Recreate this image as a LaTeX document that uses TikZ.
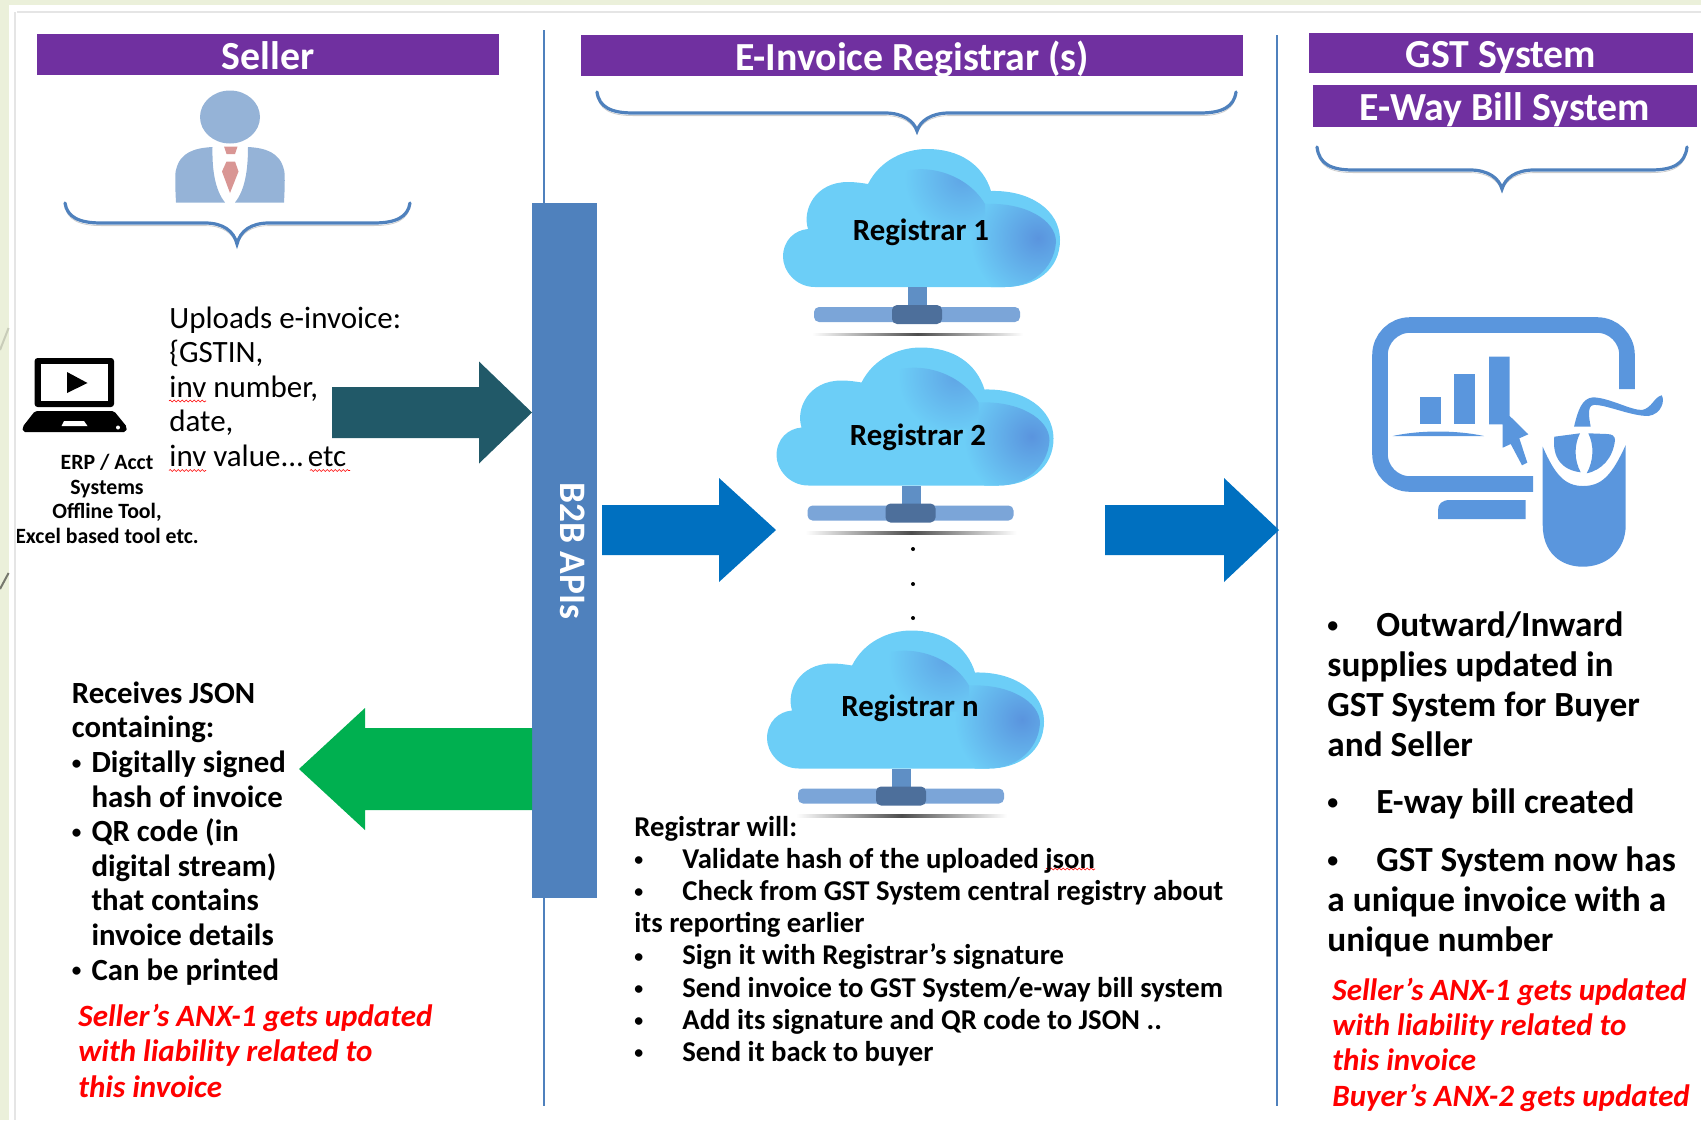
\documentclass[tikz,border=0pt]{standalone}
\usepackage{fontspec}
\setmainfont{Carlito}
\usetikzlibrary{positioning,decorations.pathmorphing}
\definecolor{purplebar}{HTML}{7030A0}
\definecolor{apiblue}{HTML}{4F81BD}
\definecolor{tealflow}{HTML}{215968}
\definecolor{flowblue}{HTML}{0070C0}
\definecolor{greenflow}{HTML}{00B050}
\definecolor{personblue}{HTML}{95B3D7}
\definecolor{tiepink}{HTML}{D99694}
\definecolor{cloudbase}{HTML}{6CCEF7}
\definecolor{cloudhi}{HTML}{5A94DE}
\definecolor{iconblue}{HTML}{5A96DD}
\definecolor{paper}{HTML}{EBF0DA}
\tikzset{
	titlebar/.style={fill=purplebar,text=white,font=\fontsize{19.9}{22}\selectfont\bfseries,align=center,inner sep=0pt,text height=17pt,text depth=2.5pt},
	sepline/.style={draw=apiblue,line width=0.6pt},
	bracket/.style={draw=apiblue,line width=1.6pt,line cap=round,preaction={draw=gray!40,transform canvas={yshift=-1.3pt}}},
	squiggle/.style={draw=red,line width=0.3pt,decorate,decoration={snake,amplitude=0.5pt,segment length=2pt}},
	blacktext/.style={anchor=base west,inner sep=0pt,align=left,font=\fontsize{15.4}{17.3}\selectfont\bfseries},
	redtext/.style={anchor=base west,inner sep=0pt,align=left,text=red,font=\fontsize{15.5}{17.6}\selectfont\bfseries\itshape},
	cloudtext/.style={inner sep=0pt,font=\fontsize{15.4}{18}\selectfont\bfseries}
}
\newcommand\bul[1]{\makebox[#1][l]{\raisebox{.1em}{\scalebox{.62}{\textbullet}}}}
\newcommand\fatarrow[7]{\fill[#1] (#2,#5-#6) -- (#3,#5-#6) -- (#3,#5-#7) -- (#4,#5) -- (#3,#5+#7) -- (#3,#5+#6) -- (#2,#5+#6) -- cycle;}
\newcommand\curlybrace[6]{\draw[bracket] (#1,#4) .. controls ({#1+2},{#5-6}) and ({#1+14},#5) .. ({#1+36},#5) -- ({#3-32},#5) .. controls ({#3-14},#5) and ({#3-3},{#5+8}) .. (#3,#6) .. controls ({#3+3},{#5+8}) and ({#3+14},#5) .. ({#3+32},#5) -- ({#2-36},#5) .. controls ({#2-14},#5) and ({#2-2},{#5-6}) .. (#2,#4);}
\newcommand\registrar[5]{
	\begin{scope}[shift={(#2,#3)}]
	\path[fill=cloudbase] (75,157) .. controls (55,157) and (43,140) .. (43,127) .. controls (43,110) and (55,100) .. (68,99) .. controls (62,80) and (75,52) .. (108,52) .. controls (115,52) and (122,53) .. (128,54) .. controls (140,30) and (165,19) .. (187,19) .. controls (220,19) and (243,35) .. (251,61) .. controls (290,60) and (320,80) .. (320,110) .. controls (320,140) and (295,157) .. (265,157) -- cycle;
	\begin{scope}
	\clip (245,74) .. controls (285,72) and (316,90) .. (316,112) .. controls (314,140) and (290,157) .. (265,157) -- (200,157) -- cycle;
	\shade[inner color=cloudhi,outer color=cloudbase] (298,108) circle (68);
	\end{scope}
	\begin{scope}
	\clip (150,48) .. controls (175,30) and (225,40) .. (245,74) -- (245,100) -- (160,100) -- cycle;
	\shade[inner color=cloudhi!70!cloudbase,outer color=cloudbase] (222,48) circle (58);
	\end{scope}
	\fill[color={rgb,255:red,95;green,143;blue,197}] (168,157) rectangle (187,178);
	\fill[color={rgb,255:red,123;green,165;blue,216},rounded corners=2.5pt] (74,177) rectangle (280,192);
	\fill[color={rgb,255:red,77;green,111;blue,155},rounded corners=2.5pt] (152,175) rectangle (202,194);
	\shade[left color=white,right color=white,middle color=black!70] (72,203) rectangle (283,205.5);
	\end{scope}
	\node[cloudtext] (#1) at (#5) {#4};
}
\begin{document}
\begin{tikzpicture}[x=0.5pt,y=-0.5pt]
	\useasboundingbox (0,0) rectangle (1701,1120);
	\node[titlebar,minimum width=231pt,minimum height=20.5pt] (seller) at (268,54.5) {Seller};
	\node[titlebar,minimum width=331pt,minimum height=20.5pt] (registrars) at (912,55.5) {E-Invoice Registrar (s)};
	\node[titlebar,minimum width=192pt,minimum height=20pt] (gst) at (1501,53) {GST System};
	\node[titlebar,minimum width=192pt,minimum height=21pt] (eway) at (1505,106) {E-Way Bill System};
	\draw[sepline] (544,30) -- (544,1106);
	\draw[sepline] (1277,35) -- (1277,1106);
	\curlybrace{65}{410}{237}{203}{223}{244}
	\curlybrace{597}{1236}{917}{92}{113}{131}
	\curlybrace{1317}{1687}{1502}{147}{170}{189}
	% person
	\fill[personblue] (230,117) ellipse (30 and 26.5);
	\fill[personblue] (176,202.5) .. controls (175,185) and (175,172) .. (176,170) .. controls (180,152) and (195,148) .. (212.5,147) .. controls (212,170) and (215,190) .. (225,202.5) -- cycle;
	\fill[personblue] (284,202.5) .. controls (285,185) and (285,172) .. (284,170) .. controls (280,152) and (265,148) .. (248,147) .. controls (248,170) and (245,190) .. (235,202.5) -- cycle;
	\fill[tiepink] (224,146.5) -- (237.5,146.5) -- (235,154) -- (226.5,154) -- cycle;
	\fill[tiepink] (226.5,161.5) -- (235,161.5) -- (238.5,171.5) -- (230,193) -- (222,171.5) -- cycle;
	% laptop
	\fill[black,rounded corners=1.5pt] (34.6,358) rectangle (114,407);
	\fill[white] (41,364) rectangle (108,401);
	\fill[black] (67,372) -- (87.5,383) -- (67,393) -- cycle;
	\fill[black,rounded corners=1pt] (35,411) -- (114,411) -- (127,427) -- (126,432) -- (23,432) -- (22.5,427) -- cycle;
	\fill[white] (64,421) -- (84,421) -- (87.5,426) -- (61.5,426) -- cycle;
	\fill[white] (118,427.5) circle (2);
	\node[anchor=base,inner sep=0pt,align=center,font=\fontsize{10.9}{12.2}\selectfont\bfseries] (erp) at (107,543) {ERP / Acct\\Systems\\Offline Tool,\\Excel based tool etc.};
	\node[anchor=base west,inner sep=0pt,align=left,font=\fontsize{15.5}{17.3}\selectfont] (upload) at (169,466.5) {Uploads e-invoice:\\\{GSTIN,\\inv number,\\date,\\inv value...\kern-1.5pt\ etc};
	\foreach \sqstart/\sqend/\sqy in {169/206/401,169/206/470.5,310/350/470.5,1046/1095/869}
		\draw[squiggle] (\sqstart,\sqy) -- (\sqend,\sqy);
	\fatarrow{tealflow}{332}{479}{532}{412.5}{25.5}{51}
	\fill[apiblue] (531.5,202.5) rectangle (597,898);
	\node[rotate=-90,inner sep=0pt,text=white,font=\fontsize{18.7}{22}\selectfont\bfseries] (apis) at (573,551) {B2B APIs};
	\fatarrow{flowblue}{602}{719}{776}{530}{25}{52}
	\fatarrow{flowblue}{1105}{1224}{1279}{530}{25}{52}
	\fatarrow{greenflow}{532}{365}{299}{769}{41}{61}
	\registrar{regone}{740}{130}{Registrar 1}{921,232}
	\registrar{regtwo}{733.5}{328.5}{Registrar 2}{918,437}
	\registrar{regn}{724}{611.5}{Registrar n}{910,708}
	\foreach \doty in {549,584,618}
		\fill[black] (913,\doty) circle (2);
	% screen and mouse
	\draw[iconblue,line width=7.8pt,rounded corners=15pt] (1627,389) -- (1627,325) -- (1380,325) -- (1380,484) -- (1533,484);
	\fill[iconblue] (1420,397.3) rectangle (1440.7,424.3);
	\fill[iconblue] (1454.3,374) rectangle (1475,424.3);
	\fill[iconblue] (1489,356.7) -- (1509.7,356.7) -- (1509.7,416) -- (1528.3,434.3) -- (1519.3,438.3) -- (1527.3,462.7) -- (1522,465.3) -- (1510.7,444) -- (1502.7,447.7) -- (1502.7,424.3) -- (1489,424.3) -- cycle;
	\fill[iconblue] (1392.7,436) .. controls (1420,430) and (1456,430) .. (1484,436) -- cycle;
	\fill[iconblue] (1525.7,500) -- (1450,500) .. controls (1442,500) and (1438,504) .. (1438,510) -- (1438,519) -- (1525.7,519) -- cycle;
	\fill[iconblue] (1542.7,446.7) .. controls (1555,475) and (1565,486) .. (1583,486) .. controls (1602,486) and (1612,475) .. (1625.7,445) -- (1625.7,525) .. controls (1625.7,552) and (1605,566.7) .. (1583,566.7) .. controls (1560,566.7) and (1542.7,552) .. (1542.7,525) -- cycle;
	\fill[iconblue] (1554.3,436.7) -- (1580,433.3) .. controls (1574,445) and (1574,460) .. (1580.7,472.3) .. controls (1562,470) and (1552,458) .. (1554.3,436.7) -- cycle;
	\fill[iconblue] (1588.3,433.3) -- (1606.7,434) .. controls (1612,434) and (1615,436) .. (1615,440) .. controls (1613,458) and (1602,470) .. (1586.7,473.3) .. controls (1594,460) and (1594,445) .. (1588.3,433.3) -- cycle;
	\fill[iconblue] (1574,426.7) .. controls (1578,410) and (1582,398) .. (1593.3,397.3) .. controls (1610,398) and (1630,410) .. (1642,410) .. controls (1652,408) and (1654,397) .. (1661.7,395.3) .. controls (1665,400) and (1662,414) .. (1648.3,416) .. controls (1630,416) and (1605,404) .. (1593.3,405) .. controls (1587,406) and (1589,418) .. (1590.7,426.7) -- cycle;
	% texts
	\node[blacktext] (receives) at (71.5,980) {Receives JSON\\containing:\\\bul{9.8pt}Digitally signed\\\hspace*{9.8pt}hash of invoice\\\bul{9.8pt}QR code (in\\\hspace*{9.8pt}digital stream)\\\hspace*{9.8pt}that contains\\\hspace*{9.8pt}invoice details\\\bul{9.8pt}Can be printed};
	\node[redtext] (leftnote) at (78,1097) {Seller’s ANX-1 gets updated\\with liability related to\\this invoice};
	\node[blacktext,font=\fontsize{14.35}{16.1}\selectfont\bfseries] (regwill) at (634,1061.5) {Registrar will:\\\bul{24pt}Validate hash of the uploaded json\\\bul{24pt}Check from GST System central registry about\\its reporting earlier\\\bul{24pt}Sign it with Registrar’s signature\\\bul{24pt}Send invoice to GST System/e-way bill system\\\bul{24pt}Add its signature and QR code to JSON ..\\\bul{24pt}Send it back to buyer};
	\node[blacktext,font=\fontsize{17.65}{20}\selectfont\bfseries] (outward) at (1327,951) {\bul{24.5pt}Outward/Inward\\supplies updated in\\GST System for Buyer\\and Seller\\[8.5pt]\bul{24.5pt}E-way bill created\\[9pt]\bul{24.5pt}GST System now has\\a unique invoice with a\\unique number};
	\node[redtext] (rightnote) at (1332,1106) {Seller’s ANX-1 gets updated\\with liability related to\\this invoice\\Buyer’s ANX-2 gets updated};
	% slide edges
	\fill[white] (8.6,0) rectangle (17,1120);
	\fill[black!10] (14,12) rectangle (16,1120);
	\fill[black!10] (17,11) rectangle (1701,13);
	\fill[paper] (0,0) rectangle (8.6,1120);
	\fill[paper] (0,0) rectangle (1701,4.5);
	\draw[black!15!paper,line width=1pt] (0,350) -- (8.6,328);
	\draw[black!50!paper,line width=1pt] (0,589) -- (8.6,573);
\end{tikzpicture}
\end{document}
